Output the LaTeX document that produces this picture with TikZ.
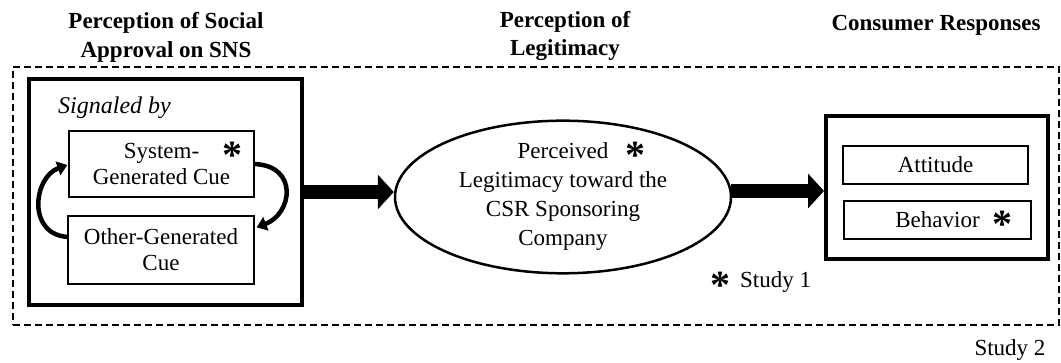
\documentclass[tikz,border=0pt]{standalone}
\usepackage{fontspec}
\setmainfont{Liberation Serif}
\usetikzlibrary{arrows.meta,shapes.geometric,calc}
\newcommand{\bigstar}{{\fontsize{40}{40}\selectfont\bfseries *}}
\newcommand{\starafter}[1]{\rlap{\hspace{#1}\raisebox{-10pt}[0pt][0pt]{\bigstar}}}
\begin{document}
\begin{tikzpicture}[x=1pt,y=-1pt,
  txt/.style={font=\fontsize{23}{26}\selectfont, align=center, inner sep=0pt},
  ttl/.style={font=\fontsize{23}{28.5}\selectfont\bfseries, align=center, inner sep=0pt},
  cuebox/.style={draw, line width=1.2pt, inner sep=0pt, align=center, font=\fontsize{23}{26}\selectfont},
  bigbox/.style={draw, line width=4pt, inner sep=0pt},
  starmark/.style={font=\fontsize{40}{40}\selectfont\bfseries, inner sep=0pt, anchor=base, yshift=-17pt},
  fat/.style={line width=14pt, -{Triangle[length=16pt,width=34pt]}},
  curv/.style={line width=4.5pt, -{Triangle[length=10pt,width=14pt]}},
]
\useasboundingbox (0,0) rectangle (1061,363);

% outer dashed frame (Study 2)
\node[draw, line width=1.8pt, dash pattern=on 7pt off 4pt, minimum width=1046pt, minimum height=258pt, inner sep=0pt] (outer) at (536,196) {};

% titles
\node[ttl] (t1) at (166,37.5) {Perception of Social\\Approval on SNS};
\node[ttl] (t2) at (565,36) {Perception of\\Legitimacy};
\node[ttl] (t3) at (936,25) {Consumer Responses};

% left block
\node[bigbox, minimum width=273pt, minimum height=226pt] (lbox) at (165.5,192) {};
\node[font=\fontsize{24}{28}\selectfont\itshape, inner sep=0pt, anchor=west] (sig) at (58,108) {Signaled by};
\node[cuebox, minimum width=185pt, minimum height=66pt] (sys) at (161.5,164) {System-\starafter{23pt}\\Generated Cue};
\node[cuebox, minimum width=186pt, minimum height=68pt] (oth) at (161,250) {Other-Generated\\Cue};

\coordinate (rEnd) at ($(oth.north east)+(2,12)$);
\draw[curv] (sys.east) .. controls +(44,2) and +(36,-14) .. (rEnd);
\coordinate (lStart) at ($(oth.west)+(1,-13)$);
\coordinate (lEnd) at ($(sys.west)+(-1,1)$);
\draw[curv] (lStart) .. controls +(-42,-2) and +(-34,12) .. (lEnd);

% ellipse
\node[draw, ellipse, line width=2.5pt, minimum width=336pt, minimum height=150pt, inner sep=0pt, align=center, font=\fontsize{23}{29}\selectfont] (ell) at (563,197) {Perceived\starafter{17pt}\\Legitimacy toward the\\CSR Sponsoring\\Company};

% right block
\node[bigbox, minimum width=222pt, minimum height=143pt] (rbox) at (937,187.5) {};
\node[cuebox, minimum width=185pt, minimum height=38pt] (att) at (935.5,165) {Attitude};
\node[cuebox, minimum width=187pt, minimum height=38pt] (beh) at (937.5,220) {Behavior\starafter{13pt}};

% big arrows
\draw[fat] (lbox.east) -- (lbox.east -| ell.west);
\coordinate (a2s) at ($(ell.east)+(-1,-6)$);
\draw[fat] (a2s) -- (a2s -| rbox.west);

% legend
\node[starmark] (s4) at (720,282) {*};
\node[txt, anchor=west] (st1) at (740,282) {Study 1};
\node[txt] (st2) at (1010,350) {Study 2};
\end{tikzpicture}
\end{document}
